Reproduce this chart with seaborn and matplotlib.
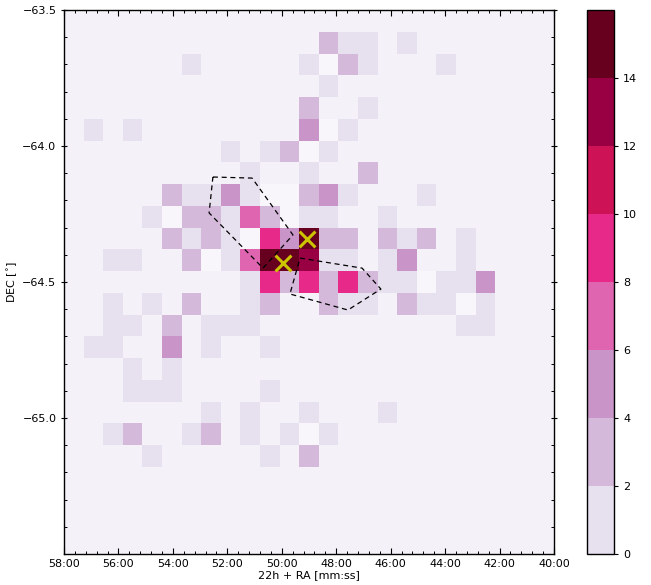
import numpy as np
import matplotlib
matplotlib.use("Agg")
import matplotlib.pyplot as plt
from matplotlib.colors import ListedColormap
from matplotlib.ticker import MultipleLocator, FuncFormatter
import seaborn as sns

# map extent: RA offset in minutes after 22h (left -> right), DEC in degrees (top -> bottom)
ra_lim = (58.0, 40.0)
dec_lim = (-63.5, -65.5)
n_bins = 25

# source counts per bin, first row = top (DEC -63.5), first column = left (RA 58:00)
# '.' = empty bin, '0' = bin with zero, otherwise hex count
count_rows = [
    ".........................",
    ".............311.1.......",
    "......1.....1031...1.....",
    ".............1...........",
    "............3..1.........",
    ".1.1........501..........",
    "........1.1301...........",
    ".........1..1..3.........",
    ".....3115100351...1......",
    "....1033173011..1........",
    ".....3131095f33.313.1....",
    "..11..3017ffd11.15..1....",
    ".........1939393110115...",
    "..1.1.3..13..311.31101...",
    "..11.3.111..........11...",
    ".11..5.1..1..............",
    "...1.1...................",
    "...111....1..............",
    ".......1.1..1...1........",
    "..13..13.1.101...........",
    "....1.....1.3............",
    ".........................",
    ".........................",
    ".........................",
    ".........................",
]

# brightest peaks (yellow crosses)
peak_ra = [49.06, 49.96]
peak_dec = [-64.343, -64.431]

# dashed outlines
poly1_ra = [52.53, 51.09, 49.59, 50.69, 52.67]
poly1_dec = [-64.114, -64.118, -64.327, -64.449, -64.246]
poly2_ra = [49.33, 47.05, 46.36, 47.57, 49.70]
poly2_dec = [-64.412, -64.449, -64.526, -64.603, -64.544]

cbar_ticks = [0, 2, 4, 6, 8, 10, 12, 14]
levels = ["#e7e1ef", "#d4b9da", "#c994c7", "#df65b0",
          "#e7298a", "#ce1256", "#980043", "#67001f"]

sns.set_style("ticks")
plt.rcParams["font.family"] = ["DejaVu Sans"]
plt.rcParams["font.size"] = 8
for key in ["text.color", "axes.labelcolor", "xtick.color", "ytick.color", "axes.edgecolor"]:
    plt.rcParams[key] = "black"

grid = np.array([[np.nan if c == "." else int(c, 16) for c in row] for row in count_rows])
ra_edges = np.linspace(ra_lim[0], ra_lim[1], n_bins + 1)
dec_edges = np.linspace(dec_lim[0], dec_lim[1], n_bins + 1)

fig = plt.figure(figsize=(6.51, 5.85), dpi=100)
ax = fig.add_axes([64 / 651, 31 / 585, 490 / 651, 544 / 585])
cax = fig.add_axes([587 / 651, 31 / 585, 27 / 651, 544 / 585])
ax.set_facecolor("#f4f2f8")

zeros = np.where(grid == 0, 0.0, np.nan)
ax.pcolormesh(ra_edges, dec_edges, zeros, cmap=ListedColormap(["#f8f6fb"]), vmin=0, vmax=1)
counts = np.where(grid > 0, grid, np.nan)
mesh = ax.pcolormesh(ra_edges, dec_edges, counts, cmap=ListedColormap(levels), vmin=0, vmax=16)

for pra, pdec in [(poly1_ra, poly1_dec), (poly2_ra, poly2_dec)]:
    ax.plot(pra + pra[:1], pdec + pdec[:1], color="black", ls=(0, (4, 3)), lw=0.9)

sns.scatterplot(x=peak_ra, y=peak_dec, marker="x", s=130, color="#cdc400",
                linewidth=2.2, ax=ax, zorder=5)

ax.set_xlim(*ra_lim)
ax.set_ylim(dec_lim[1], dec_lim[0])
ax.xaxis.set_major_locator(MultipleLocator(2))
ax.xaxis.set_minor_locator(MultipleLocator(0.4))
ax.xaxis.set_major_formatter(FuncFormatter(lambda v, p: f"{int(round(v)):02d}:00"))
ax.set_yticks([-65.0, -64.5, -64.0, -63.5])
ax.yaxis.set_minor_locator(MultipleLocator(0.1))
ax.tick_params(which="both", direction="in", top=True, right=True, labelsize=8)
ax.tick_params(which="major", length=4, width=0.8)
ax.tick_params(which="minor", length=2, width=0.7)
ax.tick_params(axis="y", which="major", direction="inout", left=True)
ax.set_xlabel("22h + RA [mm:ss]", fontsize=8, labelpad=1)
ax.set_ylabel(r"DEC [$^{\circ}$]", fontsize=8, labelpad=2)
for sp in ax.spines.values():
    sp.set_linewidth(1.0)

cb = fig.colorbar(mesh, cax=cax, ticks=cbar_ticks)
cb.ax.tick_params(labelsize=8, length=3, width=0.8)
cb.outline.set_linewidth(1.0)

fig.savefig("out.png", dpi=100, facecolor="white")
